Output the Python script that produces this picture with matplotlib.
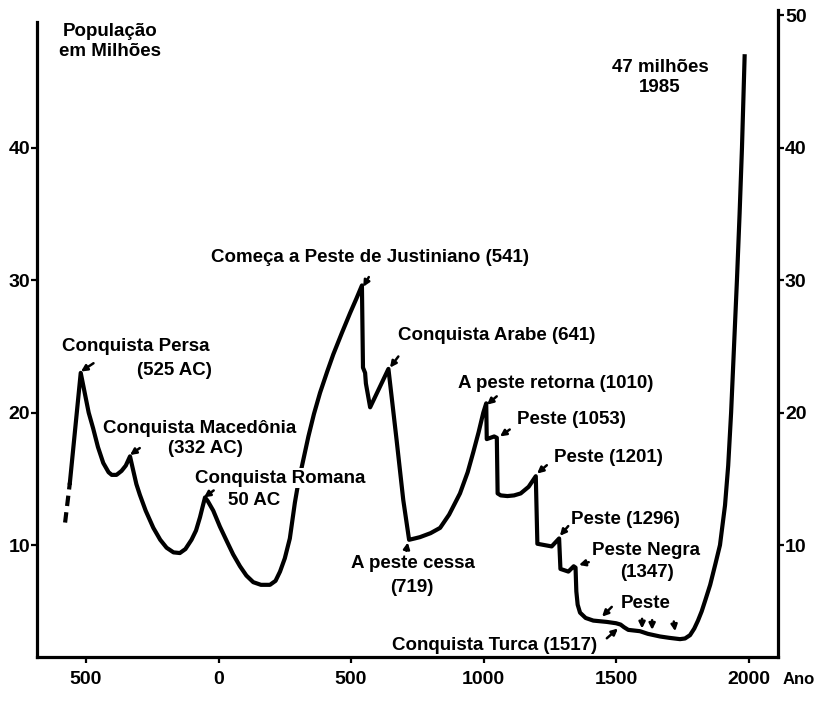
import matplotlib
matplotlib.use("Agg")
import matplotlib.pyplot as plt

# bold sans everywhere, like the old printed chart
plt.rcParams['font.family'] = ['Liberation Sans', 'DejaVu Sans']
plt.rcParams['font.weight'] = 'bold'

# uncertain start of the series (drawn dashed)
anos_inicio = [-579, -561]
pop_inicio = [11.7, 14.7]

# population of Egypt, millions
anos = [-561, -520, -505, -490, -473, -455, -435, -415, -403, -385, -366, -350, -334,
        -325, -310, -297, -275, -246, -220, -196, -170, -146, -125, -102, -85, -70, -60, -51,
        -40, -20, 5, 31, 55, 81, 105, 131, 160, 194, 215, 232, 250, 269, 288, 300, 314,
        339, 360, 383, 410, 433, 465, 496, 520, 541,
        545, 553, 556, 572, 641, 672, 697, 719, 740, 760, 800, 836, 870, 911, 940, 961,
        981, 999, 1010,
        1012, 1040, 1050, 1053, 1065, 1090, 1115, 1140, 1170, 1197, 1203, 1257, 1285, 1290,
        1320, 1340, 1347, 1350, 1355, 1364, 1385, 1414, 1465, 1500, 1517, 1530, 1546, 1590,
        1620, 1666, 1700, 1741, 1760, 1779, 1795, 1809, 1823, 1836, 1855, 1875, 1892, 1911,
        1923, 1934, 1945, 1956, 1966, 1975, 1985]
pop = [14.7, 23.0, 21.5, 20.0, 18.8, 17.4, 16.2, 15.5, 15.3, 15.3, 15.6, 16.0, 16.7,
       15.9, 14.6, 13.8, 12.6, 11.3, 10.4, 9.8, 9.45, 9.4, 9.7, 10.4, 11.1, 12.1, 12.9, 13.6,
       13.3, 12.6, 11.4, 10.3, 9.3, 8.4, 7.7, 7.2, 7.0, 7.0, 7.3, 8.0, 9.0, 10.5, 13.2, 14.6, 15.9,
       18.2, 19.9, 21.5, 23.1, 24.4, 26.0, 27.5, 28.6, 29.6,
       23.4, 23.0, 22.2, 20.4, 23.3, 17.9, 13.4, 10.4, 10.5, 10.6, 10.9, 11.3, 12.3, 13.9, 15.5, 17.0,
       18.5, 20.0, 20.7,
       18.0, 18.2, 18.1, 13.9, 13.75, 13.7, 13.75, 13.9, 14.4, 15.2, 10.1, 9.9, 10.5, 8.2,
       8.0, 8.4, 8.3, 6.5, 5.5, 4.9, 4.5, 4.3, 4.2, 4.1, 4.0, 3.8, 3.6, 3.5,
       3.3, 3.1, 3.0, 2.9, 2.95, 3.2, 3.7, 4.3, 5.0, 5.8, 7.0, 8.6, 10.0, 13.0,
       16.0, 20.0, 25.0, 30.0, 35.0, 40.0, 46.9]

xticks = [-500, 0, 500, 1000, 1500, 2000]
xtick_labels = ['500', '0', '500', '1000', '1500', '2000']
yticks_esq = [10, 20, 30, 40]
yticks_dir = [10, 20, 30, 40, 50]

fig = plt.figure(figsize=(8.24, 7.08), dpi=100)
ax = fig.add_axes([0.0449, 0.072, 0.8993, 0.914])

ax.plot(anos_inicio, pop_inicio, color='black', lw=3, ls=(0, (2.5, 1.5)), solid_capstyle='butt')
ax.plot(anos, pop, color='black', lw=3, solid_joinstyle='round', zorder=2)

ax.set_xlim(-685, 2111)
ax.set_ylim(1.55, 50.4)

# axes frame
ax.spines['top'].set_visible(False)
for s in ['left', 'right', 'bottom']:
    ax.spines[s].set_linewidth(2.3)
ax.spines['left'].set_bounds(1.55, 49.5)

ax.set_xticks(xticks)
ax.set_xticklabels(xtick_labels)
ax.set_yticks(yticks_esq)
ax.tick_params(axis='both', direction='out', length=4, width=1.6, labelsize=14)
ax.tick_params(axis='x', pad=6)
ax.tick_params(axis='y', pad=1)
for lab in ax.get_xticklabels() + ax.get_yticklabels():
    lab.set_family(['Liberation Sans Narrow', 'Liberation Sans'])
    lab.set_weight('bold')

ax2 = ax.twinx()
ax2.set_ylim(ax.get_ylim())
ax2.set_yticks(yticks_dir)
ax2.tick_params(axis='y', direction='out', length=4, width=1.6, labelsize=14, pad=1)
for lab in ax2.get_yticklabels():
    lab.set_family(['Liberation Sans Narrow', 'Liberation Sans'])
    lab.set_weight('bold')
for s in ['top', 'left', 'bottom', 'right']:
    ax2.spines[s].set_visible(False)

fs = 13.5
ax.text(-410, 48.0, 'População\nem Milhões', ha='center', va='center', fontsize=fs, linespacing=1.25)
ax.text(1666, 45.3, '47 milhões\n1985', ha='center', va='center', fontsize=fs, linespacing=1.25)
ax.text(573, 31.7, 'Começa a Peste de Justiniano (541)', ha='center', va='center', fontsize=fs)
ax.text(-311, 25.0, 'Conquista Persa', ha='center', va='center', fontsize=fs)
ax.text(-168, 23.2, '(525 AC)', ha='center', va='center', fontsize=fs)
ax.text(-70, 18.8, 'Conquista Macedônia', ha='center', va='center', fontsize=fs)
ax.text(-50, 17.3, '(332 AC)', ha='center', va='center', fontsize=fs)
ax.text(232, 15.05, 'Conquista Romana', ha='center', va='center', fontsize=fs, zorder=3,
        bbox=dict(facecolor='white', edgecolor='none', pad=1))
ax.text(136, 13.4, '50 AC', ha='center', va='center', fontsize=fs)
ax.text(1051, 25.8, 'Conquista Arabe (641)', ha='center', va='center', fontsize=fs)
ax.text(1272, 22.2, 'A peste retorna (1010)', ha='center', va='center', fontsize=fs)
ax.text(1332, 19.5, 'Peste (1053)', ha='center', va='center', fontsize=fs)
ax.text(1472, 16.6, 'Peste (1201)', ha='center', va='center', fontsize=fs)
ax.text(1537, 11.9, 'Peste (1296)', ha='center', va='center', fontsize=fs)
ax.text(1614, 9.6, 'Peste Negra', ha='center', va='center', fontsize=fs)
ax.text(1618, 7.9, '(1347)', ha='center', va='center', fontsize=fs)
ax.text(1610, 5.6, 'Peste', ha='center', va='center', fontsize=fs)
ax.text(1040, 2.4, 'Conquista Turca (1517)', ha='center', va='center', fontsize=fs)
ax.text(733, 8.6, 'A peste cessa', ha='center', va='center', fontsize=fs)
ax.text(730, 6.8, '(719)', ha='center', va='center', fontsize=fs)

# little hand-drawn style arrows pointing at the events
seta = dict(arrowstyle='-|>', color='black', lw=1.8, mutation_scale=9, shrinkA=0, shrinkB=0)
setas = [((-519, 23.1), (9, 6)), ((-334, 16.8), (7, 5)), ((-55, 13.6), (7, 5)),
         ((546, 29.5), (4, 7)), ((647, 23.4), (6, 8)), ((1013, 20.6), (7, 6)),
         ((1062, 18.2), (7, 5)), ((1202, 15.4), (7, 6)), ((1288, 10.7), (6, 7)),
         ((1360, 8.5), (7, 2)), ((1447, 4.6), (7, 7)), ((1507, 3.7), (-8, -7)),
         ((714, 10.2), (-1, -6)), ((1598, 3.7), (0, 7)), ((1636, 3.6), (0, 7)),
         ((1723, 3.5), (-1, 7))]
for ponto, desloc in setas:
    ax.annotate('', xy=ponto, xytext=desloc, textcoords='offset points', arrowprops=seta)

fig.text(783 / 824, 1 - 680 / 708, 'Ano', ha='left', va='center', fontsize=12)

fig.savefig('out.png', dpi=100)
